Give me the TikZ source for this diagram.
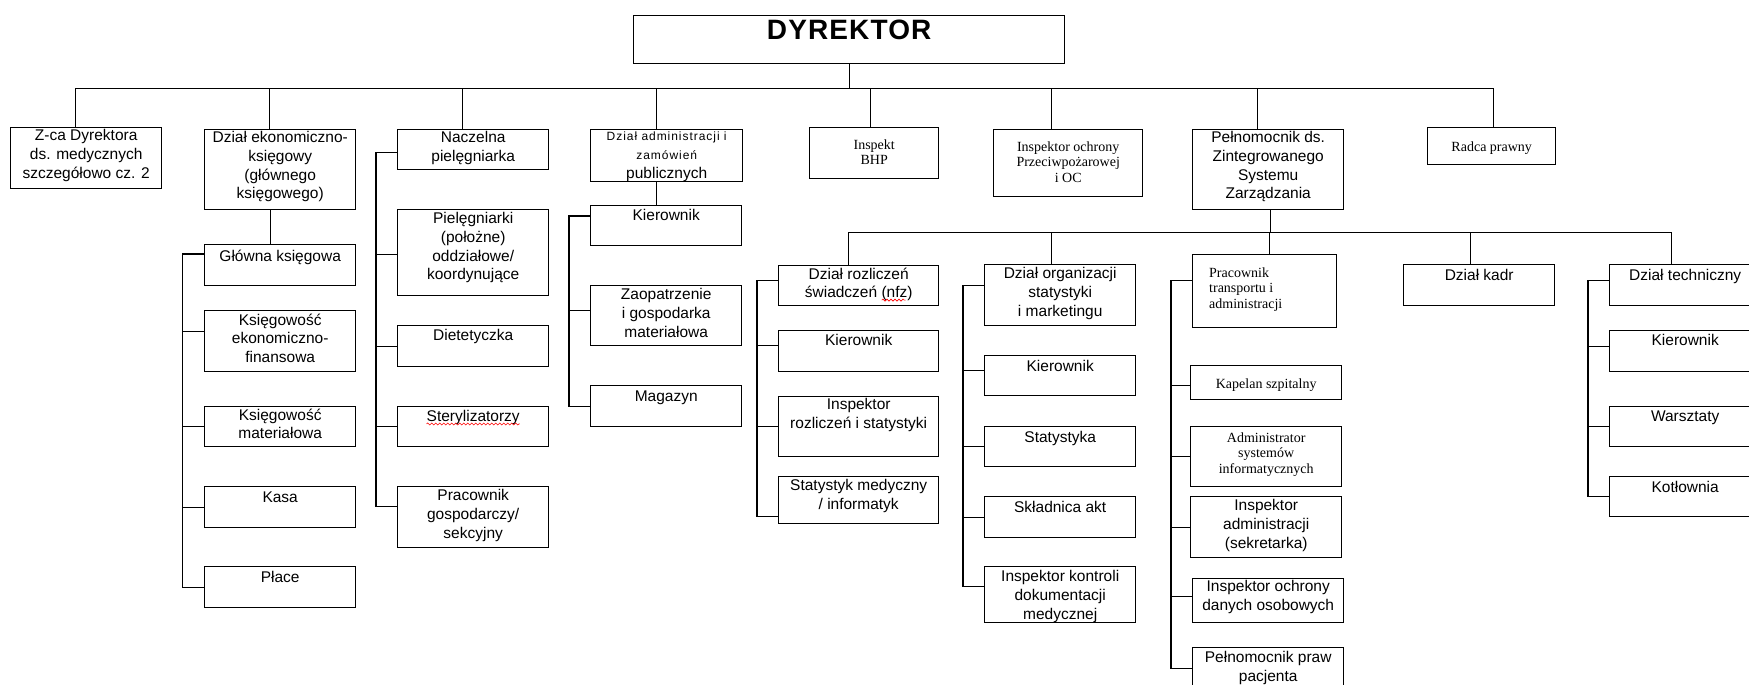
\documentclass[tikz,border=0pt]{standalone}
\usepackage{fontspec}
\setmainfont{Liberation Sans}
\newfontfamily\tms{Liberation Serif}
\usetikzlibrary{decorations.pathmorphing}

% box at (x,y) top left, width, height, drop of the text, text
\newcommand{\orgbox}[7][lbl]{%
  \node[unit, minimum width=#4pt, minimum height=#5pt] (#2) at (#3) {};
  \node[#1] (#2-t) at ([yshift=-#6pt]#2.north) {#7};}
\newcommand{\smf}{\fontsize{12}{13}\selectfont\addfontfeatures{LetterSpace=8}}

\begin{document}
\begin{tikzpicture}[x=1pt,y=-1pt]

    \tikzset{
      unit/.style={draw, line width=1.4pt, anchor=north west, inner sep=0pt},
      lbl/.style={anchor=north, align=center, inner sep=0pt,
        font=\fontsize{15.5}{18.6}\selectfont},
      tlbl/.style={lbl, font=\tms\fontsize{14}{15.5}\selectfont},
      wire/.style={line width=1.4pt},
      typo/.style={red, line width=0.6pt, decorate,
        decoration={snake, amplitude=1pt, segment length=4pt}},
    }
    \useasboundingbox (0,0) rectangle (1749,685);
    \clip (0,0) rectangle (1749,685);

    \orgbox[lbl, font=\bfseries\fontsize{28}{30}\selectfont\addfontfeatures{LetterSpace=4}]{dyr}{633,15}{431}{48}{5}{DYREKTOR}

    \orgbox{zca}{10,127}{151}{61}{2.5}{Z-ca Dyrektora\\ds. medycznych\\szczegółowo cz. 2}
    \orgbox{ekon}{204,129}{151}{80}{2.5}{Dział ekonomiczno-\\księgowy\\(głównego\\księgowego)}
    \orgbox{nacz}{397,129}{151}{40}{2.5}{Naczelna\\pielęgniarka}
    \orgbox{adm}{590,129}{152}{52}{3}{{\smf Dział administracji i}\\{\smf zamówień}\\publicznych}
    \orgbox[tlbl]{bhp}{809,127}{129}{51}{12.5}{Inspekt\\BHP}
    \orgbox[tlbl]{ppoz}{993,129}{149}{67}{12.5}{Inspektor ochrony\\Przeciwpożarowej\\i OC}
    \orgbox{zsz}{1192,129}{151}{80}{2.5}{Pełnomocnik ds.\\Zintegrowanego\\Systemu\\Zarządzania}
    \orgbox[tlbl]{radca}{1427,127}{128}{37}{14.5}{Radca prawny}

    \orgbox{gk}{204,244}{151}{41}{5.5}{Główna księgowa}
    \orgbox{ekf}{204,310}{151}{61}{3.5}{Księgowość\\ekonomiczno-\\finansowa}
    \orgbox{km}{204,406}{151}{40}{2.5}{Księgowość\\materiałowa}
    \orgbox{kasa}{204,486}{151}{41}{5.5}{Kasa}
    \orgbox{place}{204,566}{151}{41}{5.5}{Płace}

    \orgbox{piel}{397,209}{151}{86}{3.5}{Pielęgniarki\\(położne)\\oddziałowe/\\koordynujące}
    \orgbox{diet}{397,325}{151}{41}{4.5}{Dietetyczka}
    \orgbox{ster}{397,406}{151}{40}{4.5}{Sterylizatorzy}
    \orgbox{prac}{397,486}{151}{61}{3.5}{Pracownik\\gospodarczy/\\sekcyjny}

    \orgbox{admk}{590,205}{151}{40}{4.5}{Kierownik}
    \orgbox{zaop}{590,285}{151}{60}{3.5}{Zaopatrzenie\\i gospodarka\\materiałowa}
    \orgbox{mag}{590,385}{151}{41}{5.5}{Magazyn}

    \orgbox{rozl}{778,265}{160}{40}{2.5}{Dział rozliczeń\\świadczeń (nfz)}
    \orgbox{rozlk}{778,330}{160}{41}{4.5}{Kierownik}
    \orgbox{inspr}{778,396}{160}{60}{2.5}{Inspektor\\rozliczeń i statystyki}
    \orgbox{statm}{778,476}{160}{47}{3.5}{Statystyk medyczny\\/ informatyk}

    \orgbox{org}{984,264}{151}{61}{3.5}{Dział organizacji\\statystyki\\i marketingu}
    \orgbox{orgk}{984,355}{151}{40}{5.5}{Kierownik}
    \orgbox{stat}{984,426}{151}{40}{5.5}{Statystyka}
    \orgbox{skl}{984,496}{151}{41}{5.5}{Składnica akt}
    \orgbox{ikdm}{984,566}{151}{56}{4.5}{Inspektor kontroli\\dokumentacji\\medycznej}

    \node[unit, minimum width=144pt, minimum height=73pt] (ptr) at (1192,254) {};
    \node[tlbl, anchor=north west, align=left] (ptr-t) at ([xshift=17,yshift=-13.5]ptr.north west)
      {Pracownik\\transportu i\\administracji};
    \orgbox[tlbl]{kap}{1190,365}{151}{34}{13.5}{Kapelan szpitalny}
    \orgbox[tlbl]{admsys}{1190,426}{151}{60}{6.5}{Administrator\\systemów\\informatycznych}
    \orgbox{inspadm}{1190,496}{151}{61}{3.5}{Inspektor\\administracji\\(sekretarka)}
    \orgbox{iodo}{1192,578}{151}{44}{2.5}{Inspektor ochrony\\danych osobowych}
    \orgbox{ppp}{1192,647}{151}{41}{4.5}{Pełnomocnik praw\\pacjenta}

    \orgbox{kadr}{1403,264}{151}{41}{5.5}{Dział kadr}
    \orgbox{tech}{1609,264}{151}{41}{5.5}{Dział techniczny}
    \orgbox{techk}{1609,330}{151}{41}{4.5}{Kierownik}
    \orgbox{warsz}{1609,406}{151}{40}{4.5}{Warsztaty}
    \orgbox{kotl}{1609,476}{151}{40}{5.5}{Kotłownia}

    % top level
    \draw[wire] (dyr.south) -- ++(0,24) coordinate (hub);
    \foreach \n/\s in {zca/-10.5,ekon/-10.5,nacz/-10.5,adm/-10,bhp/-3.5,ppoz/-17,zsz/-10.5,radca/2}
      \draw[wire] (hub) -| ([xshift=\s]\n.north);
    \draw[wire] ([xshift=2.5]zsz.south) -- ++(0,22) coordinate (hub2);
    \foreach \n/\s in {rozl/-10,org/-8.5,ptr/5,kadr/-8.5,tech/-13.5}
      \draw[wire] (hub2) -| ([xshift=\s]\n.north);

    % columns
    \draw[wire] ([xshift=-10]ekon.south) -- ([xshift=-10]ekon.south |- gk.north);
    \draw[wire] ([yshift=-10]gk.north west) -- ++(-21.5,0) coordinate (ekon-s) |- (place.west);
    \foreach \n/\s in {ekf/10,km/0,kasa/0}
      \draw[wire] (ekon-s) |- ([yshift=\s]\n.west);

    \draw[wire] ([yshift=-3]nacz.west) -- ++(-21,0) coordinate (nacz-s) |- ([yshift=10.5]prac.west);
    \foreach \n/\s in {piel/-2,diet/0,ster/0}
      \draw[wire] (nacz-s) |- ([yshift=\s]\n.west);

    \draw[wire] ([xshift=-10]adm.south) -- ([xshift=-10]adm.south |- admk.north);
    \draw[wire] ([yshift=-11]admk.north west) -- ++(-21,0) coordinate (adm-s) |- (mag.west);
    \draw[wire] (adm-s) |- ([yshift=5]zaop.west);

    \draw[wire] ([yshift=5]rozl.west) -- ++(-21,0) coordinate (rozl-s) |- ([yshift=-16.5]statm.west);
    \foreach \n/\s in {rozlk/5.5,inspr/0}
      \draw[wire] (rozl-s) |- ([yshift=\s]\n.west);

    \draw[wire] ([yshift=9.5]org.west) -- ++(-21,0) coordinate (org-s) |- ([yshift=8]ikdm.west);
    \foreach \n/\s in {orgk/5,stat/0,skl/0}
      \draw[wire] (org-s) |- ([yshift=\s]\n.west);

    \draw[wire] ([yshift=10.5]ptr.west) -- ++(-21,0) coordinate (ptr-s) |- (ppp.west);
    \foreach \n/\s in {kap/-3,admsys/0,inspadm/0,iodo/4}
      \draw[wire] (ptr-s) |- ([yshift=\s]\n.west);

    \draw[wire] ([yshift=4.5]tech.west) -- ++(-21,0) coordinate (tech-s) |- (kotl.west);
    \foreach \n/\s in {techk/5,warsz/0}
      \draw[wire] (tech-s) |- ([yshift=\s]\n.west);

    % spelling marks
    \draw[typo] ([yshift=-2]ster-t.base west) -- ([yshift=-2]ster-t.base east);
    \draw[typo] ([xshift=-31,yshift=1]rozl-t.south east) -- ([xshift=-7,yshift=1]rozl-t.south east);

\end{tikzpicture}
\end{document}
